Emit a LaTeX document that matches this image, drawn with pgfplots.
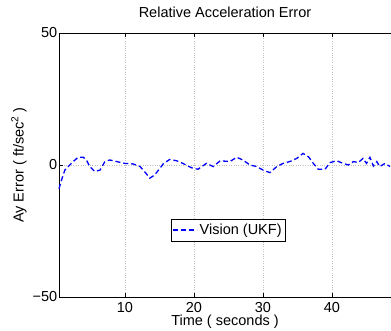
\documentclass[border=0pt]{standalone}
\usepackage{pgfplots}
\pgfplotsset{compat=1.18}
\usepackage{fontspec}
\setmainfont{Liberation Sans}
\begin{document}
\begin{tikzpicture}
\newcommand{\ff}{\fontsize{14.5bp}{17bp}\selectfont}
\begin{axis}[
  scale only axis,
  width=332bp, height=264bp,
  xmin=0.45, xmax=48.55,
  ymin=-50, ymax=50,
  axis y line=left,
  axis x line=box,
  axis line style={line width=0.9bp, black},
  y axis line style={-},
  xtick={10,20,30,40}, xticklabels={10,20,30,40},
  ytick={-50,0,50}, yticklabels={−50,0,50},
  tick align=inside,
  major tick length=4bp,
  tick style={black, line width=0.6bp},
  grid=major,
  major grid style={dotted, gray!50, line width=0.6bp},
  tick label style={font=\ff},
  xticklabel style={inner sep=0bp, yshift=-5bp},
  yticklabel style={inner sep=1.5bp},
  title={Relative Acceleration Error},
  title style={font=\ff, at={(rel axis cs:0.5,1)}, anchor=base, yshift=10bp},
  xlabel={Time ( seconds )},
  xlabel style={font=\ff, at={(rel axis cs:0.5,0)}, anchor=north, inner sep=0pt, yshift=-18bp},
  ylabel={Ay Error ( ft/sec\textsuperscript{2} )},
  every axis y label/.style={font=\ff, at={(rel axis cs:0,0.5)}, rotate=90, anchor=center, yshift=40bp},
  legend style={font=\ff, at={(rel axis cs:0.509,0.254)}, anchor=center, draw=black, line width=0.6bp, inner xsep=1.5bp, inner ysep=3bp, row sep=0pt},
  legend cell align=left,
  legend image post style={line width=1.3bp},
  legend image code/.code={\draw[#1] (0bp,0bp) -- (24bp,0bp);},
  clip=false,
]
\coordinate (O) at (rel axis cs:0,0);
\coordinate (T) at (rel axis cs:1,1);
\addplot[blue, line width=1.3bp, dash pattern=on 5bp off 3bp] coordinates {
(0.45,-9) (0.9,-5) (1.3,-1.9) (2.0,0) (2.6,1.5) (3.2,2.9) (4.0,2.9) (4.5,1.5) (4.9,-0.6) (5.65,-2.5) (6.4,-1.9) (7.1,1.3) (7.8,1.9) (8.8,1.3) (10,0.6) (11.2,0.4) (12.2,-0.6) (13.0,-3) (13.6,-5) (14.3,-3.8) (15.0,-1.5) (15.6,0.6) (16.5,2.1) (17.5,1.6) (18.4,0.6) (19.2,-0.5) (19.9,-1.3) (20.6,-1.6) (21.2,-0.5) (21.8,0.6) (22.8,-0.6) (23.8,1.6) (25.2,1.3) (26.2,2.9) (27.1,1.9) (28.1,0) (29.1,-0.6) (30,-1.9) (31,-2.9) (32,-0.6) (32.9,0.6) (33.9,1.3) (34.9,2.5) (35.8,4.4) (36.6,3.1) (37.3,0.6) (38,-1.6) (39,-1.6) (39.7,0.9) (40.7,1.6) (41.6,0.6) (42.4,0) (43.1,1.3) (43.8,0.9) (44.5,2.5) (45,0.6) (45.5,2.9) (46,-0.4) (46.5,1.3) (46.9,-0.6) (47.7,0.6) (48.4,-0.6)
};
\addlegendentry{Vision (UKF)}
\end{axis}
\pgfresetboundingbox
\path ([shift={(-59bp,-34bp)}]O) rectangle ([shift={(0bp,33bp)}]T);
\end{tikzpicture}
\end{document}
